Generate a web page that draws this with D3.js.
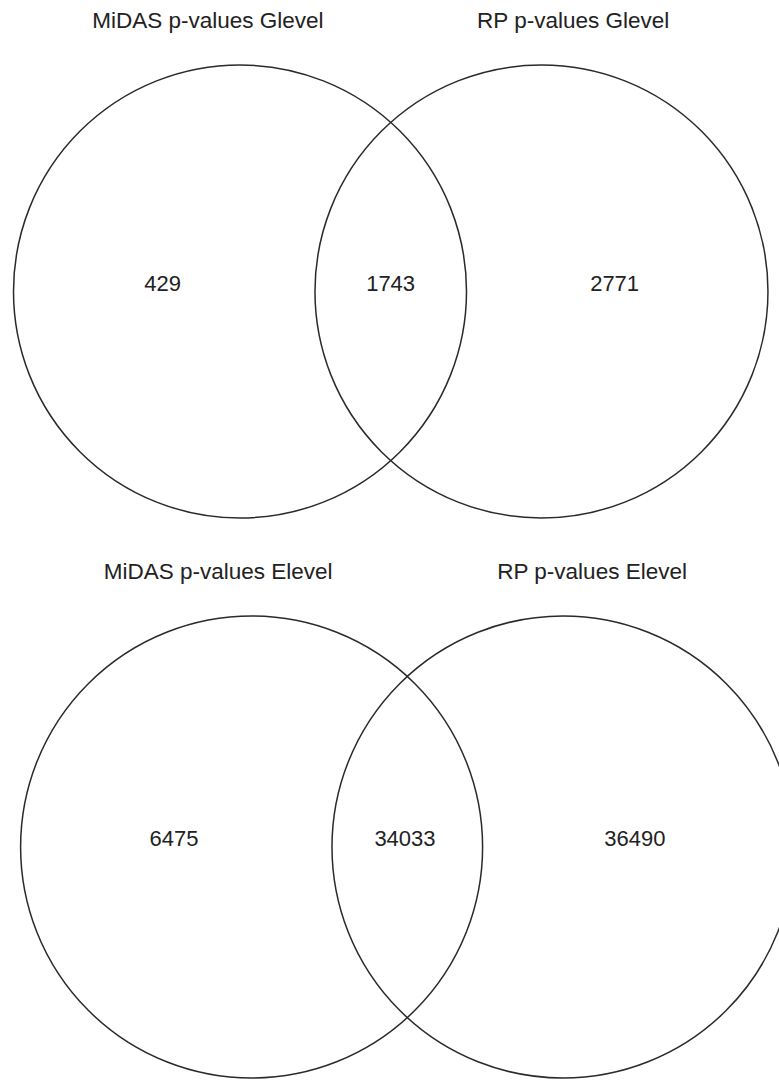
<!DOCTYPE html>
<html>
<head>
<meta charset="utf-8">
<script src="https://cdn.jsdelivr.net/npm/d3@7"></script>
<style>
  html, body { margin: 0; padding: 0; background: #fff; }
  svg { display: block; }
  text { font-family: "Liberation Sans", Arial, sans-serif; fill: #222; }
</style>
</head>
<body>
<div id="chart"></div>
<script>
// ---- data ----
const panelNames = ["Glevel", "Elevel"];
const setTitlesG = ["MiDAS p-values Glevel", "RP p-values Glevel"];
const setTitlesE = ["MiDAS p-values Elevel", "RP p-values Elevel"];
const countsG = [429, 1743, 2771];   // only MiDAS, both, only RP
const countsE = [6475, 34033, 36490];

const W = 779, H = 1080;
const svg = d3.select("#chart").append("svg").attr("width", W).attr("height", H);

// layout per panel (unit space: circle radius = 1, left circle center at x = 0)
const panels = [
  { titles: setTitlesG, counts: countsG, cx0: 240, cy: 291.5, r: 226.5, dist: 1.331,
    titleX: [-0.142, 1.471], titleY: -1.165, labelX: [-0.342, 0.665, 1.654], labelY: -0.004 },
  { titles: setTitlesE, counts: countsE, cx0: 251.6, cy: 847, r: 231, dist: 1.348,
    titleX: [-0.145, 1.474], titleY: -1.16, labelX: [-0.336, 0.664, 1.659], labelY: -0.004 }
];

panels.forEach(p => {
  const x = d3.scaleLinear().domain([0, 1]).range([p.cx0, p.cx0 + p.r]);
  const y = d3.scaleLinear().domain([0, 1]).range([p.cy, p.cy + p.r]);
  const g = svg.append("g");
  const centers = [0, p.dist];
  g.selectAll("circle").data(centers).join("circle")
    .attr("cx", d => x(d)).attr("cy", y(0))
    .attr("r", x(1) - x(0))
    .attr("fill", "none").attr("stroke", "#2a2a2a").attr("stroke-width", 1.5);
  g.selectAll("text.title").data(p.titles).join("text")
    .attr("class", "title")
    .attr("x", (d, i) => x(p.titleX[i])).attr("y", y(p.titleY))
    .attr("text-anchor", "middle").attr("font-size", 22.5)
    .text(d => d);
  g.selectAll("text.count").data(p.counts).join("text")
    .attr("class", "count")
    .attr("x", (d, i) => x(p.labelX[i])).attr("y", y(p.labelY))
    .attr("text-anchor", "middle").attr("font-size", 22)
    .text(d => d);
});
</script>
</body>
</html>
